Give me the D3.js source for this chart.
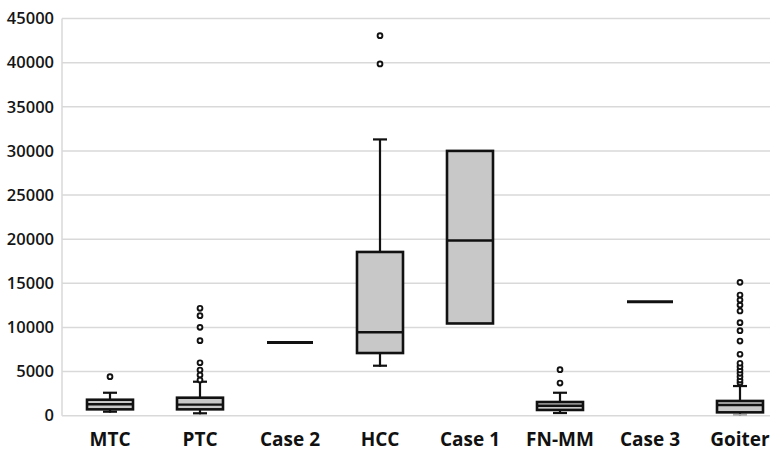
<!DOCTYPE html>
<html lang="en">
<head>
    <meta charset="UTF-8">
    <title>Box plot</title>
    <script src="https://d3js.org/d3.v7.min.js"></script>
    <style>
        body { margin: 0; background: #fff; }
        .tick-label { font-family: "Open Sans", sans-serif; font-size: 16.5px; font-weight: 600; fill: #151515; }
        .cat-label { font-family: "Open Sans", sans-serif; font-size: 19px; font-weight: 700; fill: #111; }
    </style>
</head>
<body>
    <svg id="chart" width="772" height="449"></svg>
    <script>
        const categories = ["MTC", "PTC", "Case 2", "HCC", "Case 1", "FN-MM", "Case 3", "Goiter"];
        const whiskerLow  = [340, 160, 8300, 5550, 10450, 190, 12900, 0];
        const q1          = [720, 720, 8300, 7100, 10450, 650, 12900, 380];
        const median      = [1290, 1250, 8300, 9450, 19850, 1130, 12900, 1210];
        const q3          = [1810, 2040, 8300, 18550, 30000, 1550, 12900, 1670];
        const whiskerHigh = [2600, 3850, 8300, 31300, 30000, 2600, 12900, 3360];
        const outliers = [
            [4420],
            [4040, 4610, 5180, 6000, 8500, 10010, 11330, 12170],
            [],
            [39850, 43050],
            [],
            [3700, 5210],
            [],
            [3740, 4040, 4420, 4800, 5180, 5550, 5940, 6960, 8460, 9630, 10540, 11860, 12530, 13100, 13670, 15110]
        ];
        const yTicks = [0, 5000, 10000, 15000, 20000, 25000, 30000, 35000, 40000, 45000];

        const svg = d3.select("#chart");
        const plotLeft = 62, plotRight = 770, plotTop = 18.5, plotBottom = 415.7;
        const boxW = 46;

        const x = d3.scaleBand().domain(categories).range([65, 785]);
        const y = d3.scaleLinear().domain([0, 45000]).range([plotBottom, plotTop]);

        // grid
        svg.append("g").selectAll("line").data(yTicks).enter().append("line")
            .attr("x1", plotLeft).attr("x2", plotRight)
            .attr("y1", d => y(d)).attr("y2", d => y(d))
            .attr("stroke", "#d9d9d9").attr("stroke-width", 1.5);
        svg.append("line")
            .attr("x1", plotLeft).attr("x2", plotLeft).attr("y1", plotTop).attr("y2", plotBottom)
            .attr("stroke", "#d9d9d9").attr("stroke-width", 1.5);

        // y axis labels
        const yAxis = svg.append("g")
            .attr("transform", `translate(${plotLeft},0)`)
            .call(d3.axisLeft(y).tickValues(yTicks).tickSize(0).tickPadding(8).tickFormat(d3.format("d")));
        yAxis.select(".domain").remove();
        yAxis.selectAll("text").attr("class", "tick-label").attr("fill", null);

        // x labels
        const xAxis = svg.append("g")
            .attr("transform", `translate(0,${plotBottom})`)
            .call(d3.axisBottom(x).tickSize(0).tickPadding(17));
        xAxis.select(".domain").remove();
        xAxis.selectAll("text").attr("class", "cat-label").attr("fill", null);

        const stroke = "#111";
        categories.forEach((c, i) => {
            const cx = x(c) + x.bandwidth() / 2;
            const g = svg.append("g");
            if (q1[i] === q3[i] && whiskerLow[i] === whiskerHigh[i]) {
                g.append("line")
                    .attr("x1", cx - boxW / 2).attr("x2", cx + boxW / 2)
                    .attr("y1", y(median[i])).attr("y2", y(median[i]))
                    .attr("stroke", stroke).attr("stroke-width", 3);
                return;
            }
            // whiskers
            if (whiskerHigh[i] > q3[i]) {
                g.append("line").attr("x1", cx).attr("x2", cx)
                    .attr("y1", y(q3[i])).attr("y2", y(whiskerHigh[i]))
                    .attr("stroke", stroke).attr("stroke-width", 2.2);
                g.append("line").attr("x1", cx - 7).attr("x2", cx + 7)
                    .attr("y1", y(whiskerHigh[i])).attr("y2", y(whiskerHigh[i]))
                    .attr("stroke", stroke).attr("stroke-width", 2.2);
            }
            if (whiskerLow[i] < q1[i]) {
                const lowCol = whiskerLow[i] === 0 ? "#aaa" : stroke;
                g.append("line").attr("x1", cx).attr("x2", cx)
                    .attr("y1", y(q1[i])).attr("y2", y(whiskerLow[i]))
                    .attr("stroke", stroke).attr("stroke-width", 2.2);
                g.append("line").attr("x1", cx - 7).attr("x2", cx + 7)
                    .attr("y1", y(whiskerLow[i]) - 1).attr("y2", y(whiskerLow[i]) - 1)
                    .attr("stroke", lowCol).attr("stroke-width", 2.2);
            }
            // box
            g.append("rect")
                .attr("x", cx - boxW / 2).attr("width", boxW)
                .attr("y", y(q3[i])).attr("height", y(q1[i]) - y(q3[i]))
                .attr("fill", "#c8c8c8").attr("stroke", stroke).attr("stroke-width", 2.6);
            g.append("line")
                .attr("x1", cx - boxW / 2).attr("x2", cx + boxW / 2)
                .attr("y1", y(median[i])).attr("y2", y(median[i]))
                .attr("stroke", stroke).attr("stroke-width", 2.4);
            // outliers
            g.selectAll("circle").data(outliers[i]).enter().append("circle")
                .attr("cx", cx).attr("cy", d => y(d)).attr("r", 2.4)
                .attr("fill", "#fff").attr("stroke", stroke).attr("stroke-width", 1.9);
        });
    </script>
</body>
</html>
